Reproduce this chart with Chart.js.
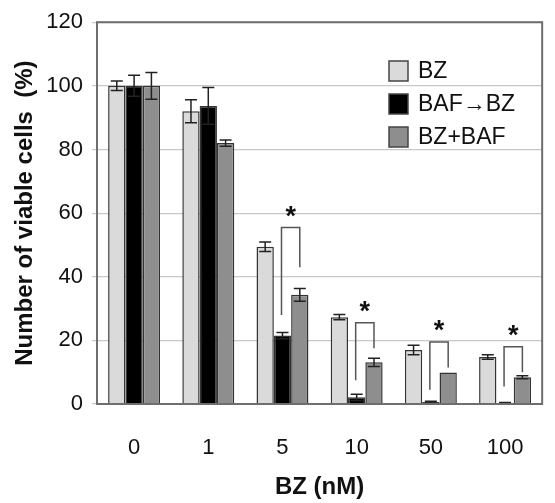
<!DOCTYPE html>
<html>
<head>
<meta charset="utf-8">
<script src="https://cdn.jsdelivr.net/npm/chart.js@4"></script>
<style>
  html, body { margin: 0; padding: 0; background: #fff; }
  #wrap { width: 555px; height: 503px; }
</style>
</head>
<body>
<div id="wrap"><canvas id="viabilityChart" width="555" height="503"></canvas></div>
<script>
// BZ dose groups (nM)
const doses = ['0', '1', '5', '10', '50', '100'];
const yTicks = [0, 20, 40, 60, 80, 100, 120];

// viable cells (%) and error bars per series
const bzOnly = [100, 92, 49.4, 27.3, 17, 14.8];
const bzOnlyErr = [1.5, 3.6, 1.5, 0.8, 1.5, 0.7];
const bafThenBz = [100, 93.7, 21.5, 2.1, 0.6, 0.3];
const bafThenBzErr = [3.3, 5.8, 1, 1, 0.3, 0.2];
const bzPlusBaf = [100, 82, 34.3, 13.1, 9.9, 8.4];
const bzPlusBafErr = [4.2, 1, 2, 1.3, 0, 0.5];

// significance brackets (between BAF→BZ and BZ+BAF)
const sigGroups = [2, 3, 4, 5];
const sigTop = [55.5, 25.5, 19.5, 18];
const sigLeftEnd = [28, 7.5, 4.5, 5.5];
const sigRightEnd = [43, 17.5, 11.5, 10];

const seriesErr = [bzOnlyErr, bafThenBzErr, bzPlusBafErr];
const FONT = '"Liberation Sans", Arial, sans-serif';

const extras = {
  id: 'extras',
  afterDatasetsDraw(chart) {
    const ctx = chart.ctx;
    const y = chart.scales.y;
    const area = chart.chartArea;
    ctx.save();

    // error bars
    ctx.strokeStyle = '#222';
    ctx.lineWidth = 1.5;
    seriesErr.forEach((errs, di) => {
      const meta = chart.getDatasetMeta(di);
      meta.data.forEach((bar, i) => {
        const v = chart.data.datasets[di].data[i];
        const e = errs[i];
        if (!e) return;
        const top = y.getPixelForValue(v + e);
        const bot = y.getPixelForValue(v - e);
        ctx.beginPath();
        ctx.moveTo(bar.x, top); ctx.lineTo(bar.x, bot);
        ctx.moveTo(bar.x - 6, top); ctx.lineTo(bar.x + 6, top);
        ctx.moveTo(bar.x - 6, bot); ctx.lineTo(bar.x + 6, bot);
        ctx.stroke();
      });
    });

    // significance brackets
    const m1 = chart.getDatasetMeta(1);
    const m2 = chart.getDatasetMeta(2);
    ctx.strokeStyle = '#555';
    ctx.lineWidth = 1.5;
    sigGroups.forEach((g, k) => {
      const xl = m1.data[g].x - 1;
      const xr = m2.data[g].x;
      const yt = y.getPixelForValue(sigTop[k]);
      ctx.beginPath();
      ctx.moveTo(xl, y.getPixelForValue(sigLeftEnd[k]));
      ctx.lineTo(xl, yt);
      ctx.lineTo(xr, yt);
      ctx.lineTo(xr, y.getPixelForValue(sigRightEnd[k]));
      ctx.stroke();
      ctx.fillStyle = '#111';
      ctx.font = 'bold 27px ' + FONT;
      ctx.textAlign = 'center';
      ctx.textBaseline = 'middle';
      ctx.fillText('*', (xl + xr) / 2, yt - 10);
    });

    // plot frame
    ctx.strokeStyle = '#6e6e6e';
    ctx.lineWidth = 2;
    ctx.strokeRect(area.left, area.top, area.right - area.left, area.bottom - area.top);

    // legend
    const labels = chart.data.datasets.map(d => d.label);
    const fills = chart.data.datasets.map(d => d.backgroundColor);
    ctx.font = '23px ' + FONT;
    ctx.textAlign = 'left';
    ctx.textBaseline = 'middle';
    labels.forEach((lab, i) => {
      const cy = 71 + i * 33;
      ctx.fillStyle = fills[i];
      ctx.fillRect(389, cy - 10, 19, 20);
      ctx.strokeStyle = '#444';
      ctx.lineWidth = 1.5;
      ctx.strokeRect(389, cy - 10, 19, 20);
      ctx.fillStyle = '#111';
      ctx.fillText(lab, 418, cy + 1);
    });
    ctx.restore();
  }
};

new Chart(document.getElementById('viabilityChart'), {
  type: 'bar',
  data: {
    labels: doses,
    datasets: [
      { label: 'BZ', data: bzOnly, backgroundColor: '#dadada' },
      { label: 'BAF\u2192BZ', data: bafThenBz, backgroundColor: '#000000' },
      { label: 'BZ+BAF', data: bzPlusBaf, backgroundColor: '#8e8e8e' }
    ].map(d => Object.assign(d, {
      borderColor: '#333',
      borderWidth: 1.5,
      borderSkipped: 'bottom',
      barPercentage: 1.0,
      categoryPercentage: 0.7
    }))
  },
  options: {
    responsive: false,
    animation: false,
    layout: { padding: { top: 22, right: 7, left: 0, bottom: 0 } },
    plugins: {
      legend: { display: false },
      tooltip: { enabled: false }
    },
    scales: {
      x: {
        grid: { display: false, drawTicks: false },
        border: { display: false },
        ticks: { color: '#111', font: { family: FONT, size: 22 }, padding: 31 },
        title: {
          display: true, text: 'BZ (nM)', color: '#111',
          font: { family: FONT, size: 24, weight: 'bold' },
          padding: { top: 0, bottom: 1 }
        },
        afterFit(scale) { scale.height = 99; }
      },
      y: {
        min: 0, max: 120,
        afterBuildTicks(scale) { scale.ticks = yTicks.map(v => ({ value: v })); },
        grid: { color: '#c8c8c8', lineWidth: 1.2, tickLength: 5 },
        border: { display: false },
        ticks: { color: '#111', font: { family: FONT, size: 22 }, padding: 9 },
        title: {
          display: true, text: 'Number of viable cells  (%)', color: '#111',
          font: { family: FONT, size: 24, weight: 'bold' },
          padding: { top: 11, bottom: 0 }
        },
        afterFit(scale) { scale.width = 97; }
      }
    }
  },
  plugins: [extras]
});
</script>
</body>
</html>
